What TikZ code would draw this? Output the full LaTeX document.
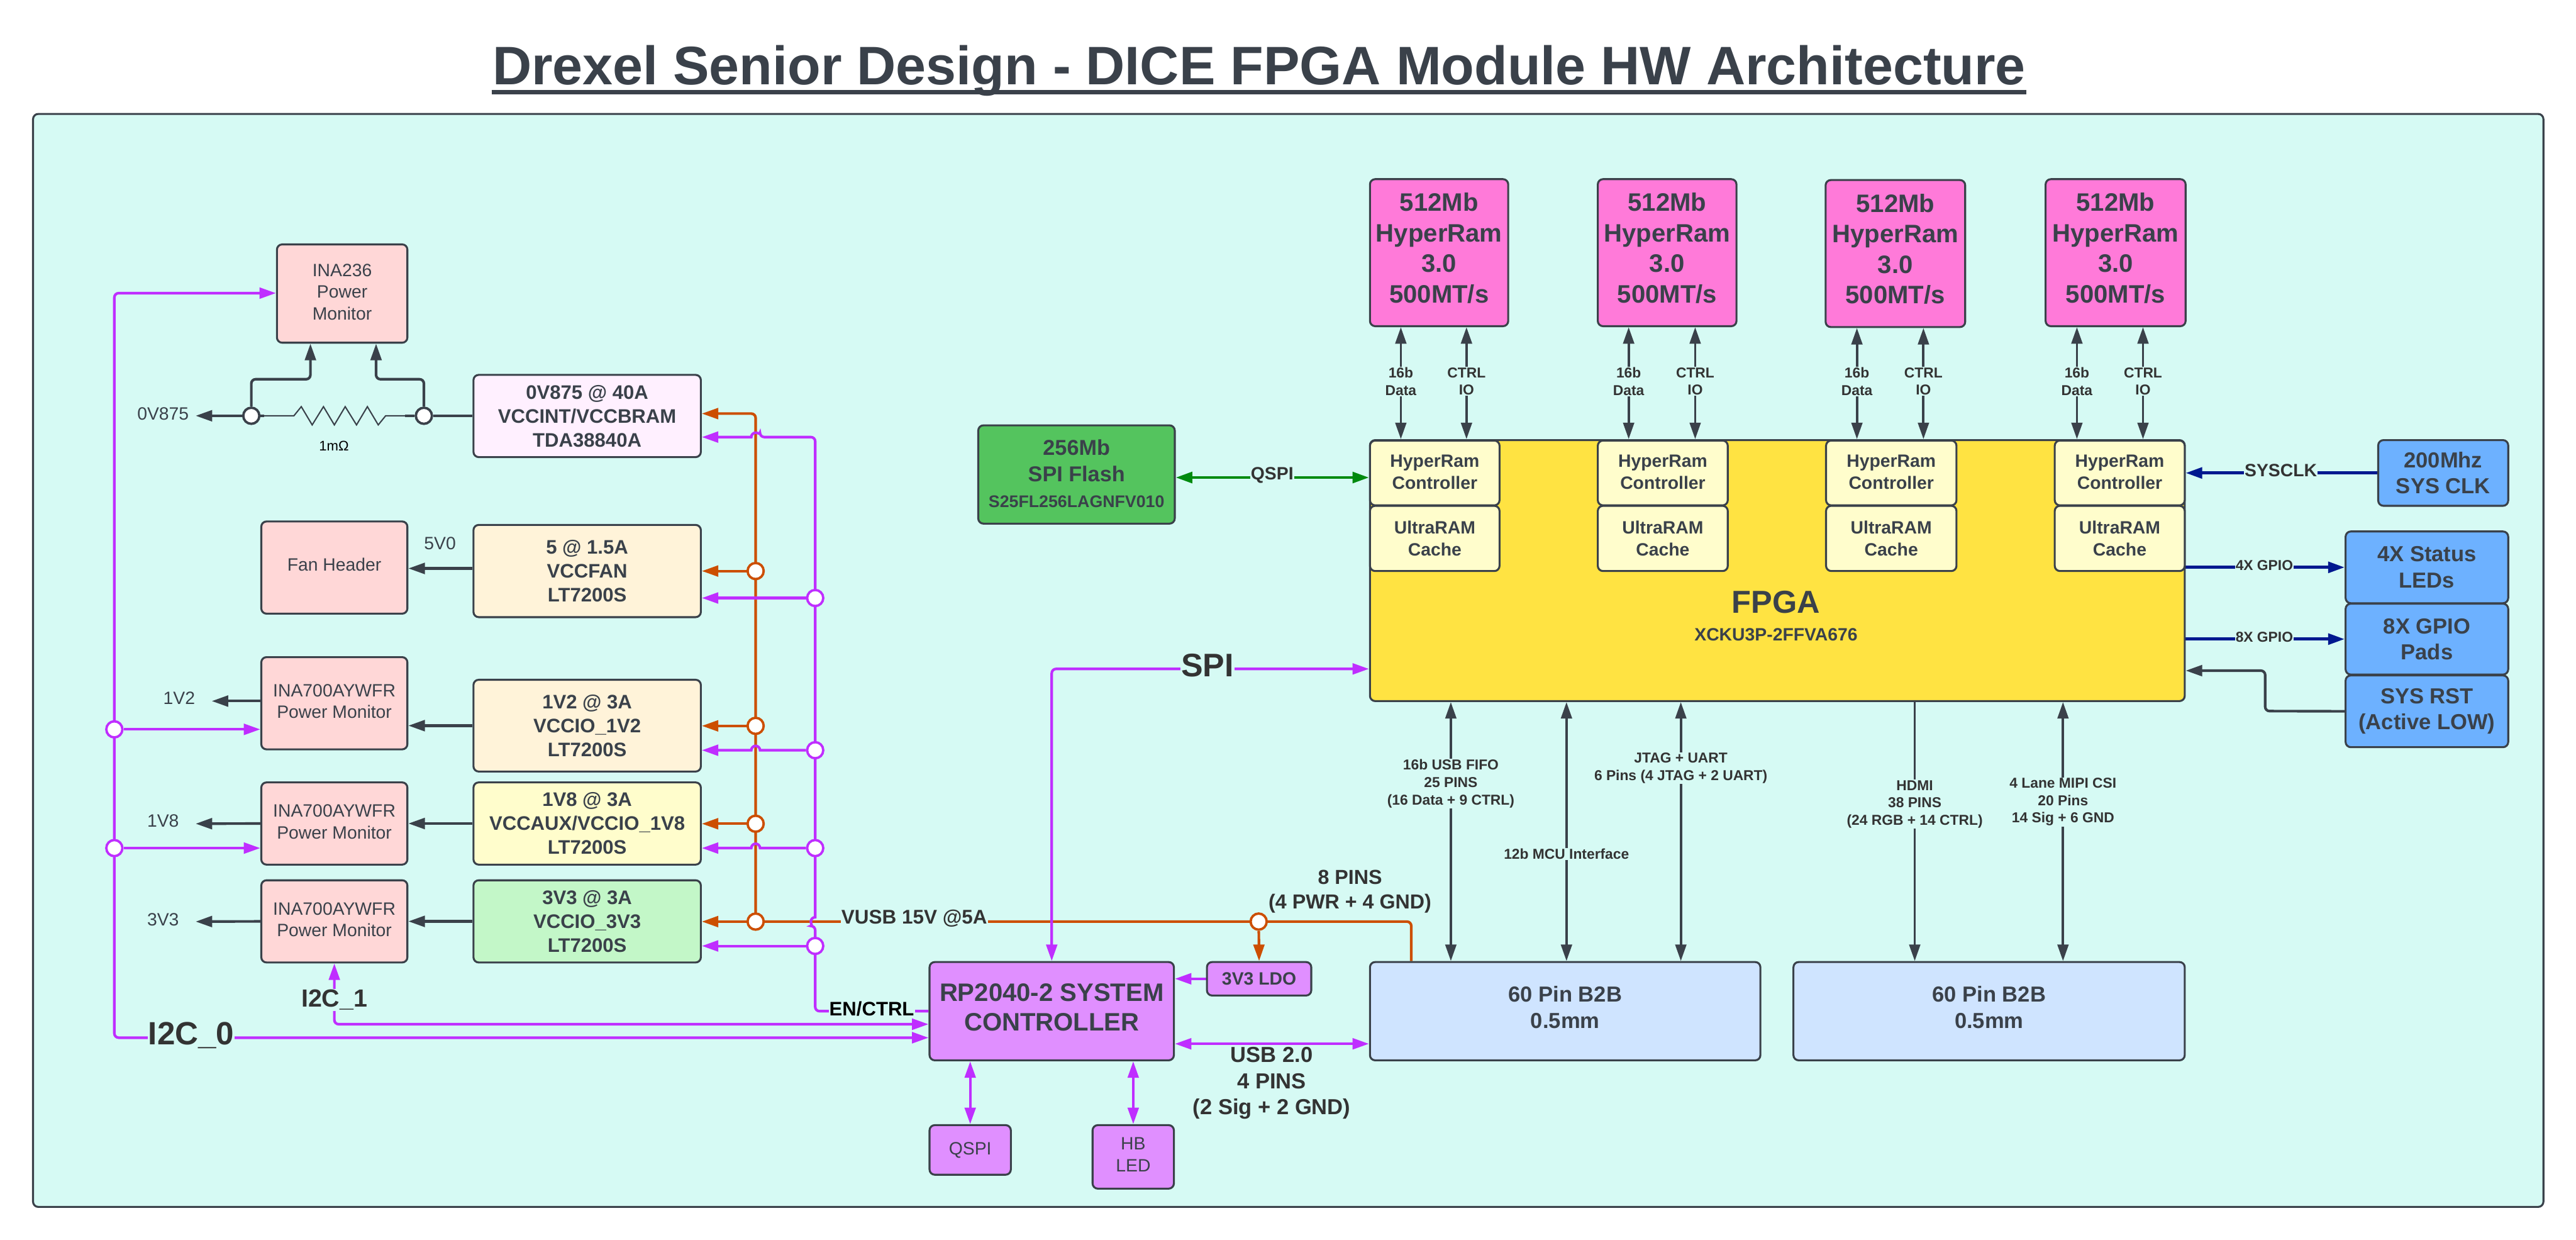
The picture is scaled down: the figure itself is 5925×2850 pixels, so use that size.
\documentclass[tikz,border=0pt]{standalone}
\usepackage{fontspec}
\setmainfont{Liberation Sans}
\usetikzlibrary{arrows.meta,calc,shapes.geometric}
\definecolor{ink}{HTML}{3A414A}
\definecolor{lab}{HTML}{333333}
\definecolor{panelc}{HTML}{D6FAF4}
\definecolor{pur}{HTML}{BF2EFF}
\definecolor{ora}{HTML}{CC4E00}
\definecolor{nav}{HTML}{00188F}
\definecolor{grn}{HTML}{008A0E}
\definecolor{cpink}{HTML}{FFD7D7}
\definecolor{clav}{HTML}{FFF0FF}
\definecolor{ccream}{HTML}{FFF3D9}
\definecolor{cyel}{HTML}{FFFDCC}
\definecolor{cgrn}{HTML}{C3F7C8}
\definecolor{cvio}{HTML}{E08FFF}
\definecolor{cmag}{HTML}{FF7AD9}
\definecolor{cfla}{HTML}{54C45E}
\definecolor{cfpga}{HTML}{FFE342}
\definecolor{cblu}{HTML}{6DB1FF}
\definecolor{cb2b}{HTML}{CFE4FF}
\pgfdeclarelayer{panellayer}
\pgfdeclarelayer{lines}
\pgfsetlayers{panellayer,lines,main}
\tikzset{
  Tri/.tip={Triangle[length=3.8pt,width=2.5pt]},
  boxbase/.style={draw=ink,line width=0.45pt,rounded corners=1.2pt,inner sep=0pt,align=center,text=ink},
  reg/.style={font=\fontsize{4.1}{5}\selectfont},
  bld/.style={font=\fontsize{4.1}{5}\selectfont\bfseries},
  psu/.style={font=\fontsize{4.5}{5.5}\selectfont\bfseries},
  big/.style={font=\fontsize{5}{6}\selectfont\bfseries},
  ram/.style={font=\fontsize{5.8}{7}\selectfont\bfseries},
  lbl/.style={inner sep=0.15pt,align=center,text=lab,fill=panelc},
  nofill/.style={inner sep=0pt,align=center,text=ink},
  tiny/.style={font=\fontsize{3.3}{4}\selectfont\bfseries},
  linep/.style={draw=pur,line width=0.6pt},
  lineo/.style={draw=ora,line width=0.6pt},
  lined/.style={draw=ink,line width=0.6pt},
  linet/.style={draw=ink,line width=0.55pt},
  linen/.style={draw=nav,line width=0.7pt},
  lineg/.style={draw=grn,line width=0.7pt},
  jct/.style={circle,fill=white,inner sep=0pt,minimum size=3.7pt,line width=0.55pt},
  jp/.style={jct,draw=pur},
  jo/.style={jct,draw=ora},
  jd/.style={jct,draw=ink},
}
\newcommand\bx[7]{\node[boxbase,#6,minimum width={(#4-#2)*0.1pt},minimum height={(#5-#3)*0.1pt}] (#1) at ({(#2+#4)/2},{(#3+#5)/2}) {#7};}
\begin{document}
\begin{tikzpicture}[x=0.1pt,y=-0.1pt]
\useasboundingbox (0,0) rectangle (5925,2850);
\begin{pgfonlayer}{panellayer}
\fill[white] (0,0) rectangle (5925,2850);
\bx{panel}{76}{262}{5850}{2775}{fill=panelc}{}
\end{pgfonlayer}
% title
\node[inner sep=0pt,text=ink,font=\fontsize{12.47}{15}\selectfont\bfseries] (title) at (2896,162) {Drexel Senior Design - DICE FPGA Module HW Architecture};
% power section
\bx{ina}{637}{562}{937}{788}{fill=cpink,reg,text depth=0.75pt}{INA236\\Power\\Monitor}
\bx{vcore}{1089}{862}{1612}{1051}{fill=clav,psu}{0V875 @ 40A\\VCCINT/VCCBRAM\\TDA38840A}
\bx{fan}{601}{1199}{937}{1411}{fill=cpink,reg,text depth=1.5pt}{Fan Header}
\bx{vfan}{1089}{1207}{1612}{1419}{fill=ccream,psu}{5 @ 1.5A\\VCCFAN\\LT7200S}
\bx{mon12}{601}{1511}{937}{1723}{fill=cpink,reg,text depth=0.9pt}{INA700AYWFR\\Power Monitor}
\bx{v12}{1089}{1563}{1612}{1774}{fill=ccream,psu}{1V2 @ 3A\\VCCIO\_1V2\\LT7200S}
\bx{mon18}{601}{1799}{937}{1988}{fill=cpink,reg,text depth=0.9pt}{INA700AYWFR\\Power Monitor}
\bx{v18}{1089}{1799}{1612}{1988}{fill=cyel,psu}{1V8 @ 3A\\VCCAUX/VCCIO\_1V8\\LT7200S}
\bx{mon33}{601}{2024}{937}{2213}{fill=cpink,reg,text depth=0.9pt}{INA700AYWFR\\Power Monitor}
\bx{v33}{1089}{2024}{1612}{2213}{fill=cgrn,psu}{3V3 @ 3A\\VCCIO\_3V3\\LT7200S}
% controller
\bx{rp}{2138}{2212}{2700}{2438}{fill=cvio,font=\fontsize{5.8}{6.9}\selectfont\bfseries,text depth=1.8pt}{RP2040-2 SYSTEM\\CONTROLLER}
\bx{ldo}{2776}{2212}{3016}{2289}{fill=cvio,bld}{3V3 LDO}
\bx{qspibox}{2138}{2587}{2325}{2701}{fill=cvio,reg}{QSPI}
\bx{hb}{2513}{2587}{2700}{2733}{fill=cvio,reg,text depth=1pt}{HB\\LED}
\bx{bb1}{3151}{2212}{4049}{2438}{fill=cb2b,big,text depth=1.8pt}{60 Pin B2B\\0.5mm}
\bx{bb2}{4125}{2212}{5025}{2438}{fill=cb2b,big,text depth=1.8pt}{60 Pin B2B\\0.5mm}
% flash, RAM
\bx{flash}{2250}{978}{2702}{1204}{fill=cfla,font=\fontsize{4.95}{6}\selectfont\bfseries,text depth=0.4pt}{256Mb\\SPI Flash\\{\fontsize{3.87}{6}\selectfont S25FL256LAGNFV010}}
\bx{ram1}{3151}{412}{3469}{750}{fill=cmag,ram,text depth=2.2pt}{512Mb\\HyperRam\\3.0\\500MT/s}
\bx{ram2}{3675}{412}{3994}{750}{fill=cmag,ram,text depth=2.2pt}{512Mb\\HyperRam\\3.0\\500MT/s}
\bx{ram3}{4199}{414}{4520}{752}{fill=cmag,ram,text depth=2.2pt}{512Mb\\HyperRam\\3.0\\500MT/s}
\bx{ram4}{4705}{412}{5027}{750}{fill=cmag,ram,text depth=2.2pt}{512Mb\\HyperRam\\3.0\\500MT/s}
\bx{fpga}{3151}{1012}{5025}{1612}{fill=cfpga}{}
\node[nofill,font=\fontsize{7.3}{8}\selectfont\bfseries] (fpgat) at (4085,1385) {FPGA};
\node[nofill,bld] (fpgas) at (4085,1459) {XCKU3P-2FFVA676};
\bx{hc1}{3151}{1013}{3449}{1162}{fill=cyel,bld,text depth=0.4pt}{HyperRam\\Controller}
\bx{uc1}{3151}{1163}{3449}{1313}{fill=cyel,bld}{UltraRAM\\Cache}
\bx{hc2}{3675}{1013}{3974}{1162}{fill=cyel,bld,text depth=0.4pt}{HyperRam\\Controller}
\bx{uc2}{3675}{1163}{3974}{1313}{fill=cyel,bld}{UltraRAM\\Cache}
\bx{hc3}{4200}{1013}{4500}{1162}{fill=cyel,bld,text depth=0.4pt}{HyperRam\\Controller}
\bx{uc3}{4200}{1163}{4500}{1313}{fill=cyel,bld}{UltraRAM\\Cache}
\bx{hc4}{4726}{1013}{5025}{1162}{fill=cyel,bld,text depth=0.4pt}{HyperRam\\Controller}
\bx{uc4}{4726}{1163}{5025}{1313}{fill=cyel,bld}{UltraRAM\\Cache}
% right
\bx{clk}{5470}{1012}{5769}{1163}{fill=cblu,big}{200Mhz\\SYS CLK}
\bx{leds}{5395}{1222}{5769}{1387}{fill=cblu,big}{4X Status\\LEDs}
\bx{gpio}{5395}{1388}{5769}{1551}{fill=cblu,big}{8X GPIO\\Pads}
\bx{rst}{5395}{1553}{5769}{1718}{fill=cblu,big}{SYS RST\\(Active LOW)}
% junctions
\node[jd] (rl) at (578,956) {};
\node[jd] (rr) at (975,956) {};
\node[jo] (o5) at (1738,1313) {};
\node[jo] (o12) at (1738,1669) {};
\node[jo] (o18) at (1738,1894) {};
\node[jo] (o33) at (1738,2119) {};
\node[jo] (ov) at (2895,2119) {};
\node[jp] (p5) at (1875,1375) {};
\node[jp] (p12) at (1875,1725) {};
\node[jp] (p18) at (1875,1950) {};
\node[jp] (p33) at (1875,2175) {};
\node[jp] (l12) at (263,1677) {};
\node[jp] (l18) at (263,1950) {};
% labels
\node[nofill,reg] (t0875) at (375,951) {0V875};
\node[nofill,font=\fontsize{3.2}{4}\selectfont,text=black] (tmo) at (768,1026) {1mΩ};
\node[nofill,reg] (t5v0) at (1012,1250) {5V0};
\node[nofill,reg] (t1v2) at (412,1605) {1V2};
\node[nofill,reg] (t1v8) at (375,1888) {1V8};
\node[nofill,reg] (t3v3) at (375,2114) {3V3};
\node[lbl,font=\fontsize{7.4}{8}\selectfont\bfseries] (ti0) at (440,2380) {I2C\_0};
\node[lbl,font=\fontsize{5.7}{7}\selectfont\bfseries] (ti1) at (769,2299) {I2C\_1};
\node[lbl,font=\fontsize{4.5}{5.5}\selectfont\bfseries,text=black] (ten) at (2005,2319) {EN/CTRL};
\node[lbl,font=\fontsize{4.55}{5.5}\selectfont\bfseries] (tvusb) at (2103,2112) {VUSB 15V @5A};
\node[nofill,text=lab,font=\fontsize{4.66}{5.6}\selectfont\bfseries] (t8p) at (3105,2050) {8 PINS\\(4 PWR + 4 GND)};
\node[nofill,text=lab,big] (tusb) at (2925,2491) {USB 2.0\\4 PINS\\(2 Sig + 2 GND)};
\node[lbl,font=\fontsize{7.5}{8}\selectfont\bfseries] (tspi) at (2777,1530) {SPI};
\node[lbl,bld] (tq) at (2926,1092) {QSPI};
\node[lbl,bld] (tclk) at (5246,1081) {SYSCLK};
\node[lbl,tiny] (t4x) at (5208,1300) {4X GPIO};
\node[lbl,tiny] (t8x) at (5208,1465) {8X GPIO};
\node[lbl,tiny] (d1) at (3222,877) {16b\\Data};
\node[lbl,tiny] (e1) at (3373,877) {CTRL\\IO};
\node[lbl,tiny] (d2) at (3746,877) {16b\\Data};
\node[lbl,tiny] (e2) at (3899,877) {CTRL\\IO};
\node[lbl,tiny] (d3) at (4271,877) {16b\\Data};
\node[lbl,tiny] (e3) at (4424,877) {CTRL\\IO};
\node[lbl,tiny] (d4) at (4777,877) {16b\\Data};
\node[lbl,tiny] (e4) at (4929,877) {CTRL\\IO};
\node[lbl,tiny] (f1) at (3337,1802) {16b USB FIFO\\25 PINS\\(16 Data + 9 CTRL)};
\node[lbl,tiny] (f2) at (3603,1964) {12b MCU Interface};
\node[lbl,tiny] (f3) at (3866,1766) {JTAG + UART\\6 Pins (4 JTAG + 2 UART)};
\node[lbl,tiny] (f4) at (4404,1849) {HDMI\\38 PINS\\(24 RGB + 14 CTRL)};
\node[lbl,tiny] (f5) at (4745,1844) {4 Lane MIPI CSI\\20 Pins\\14 Sig + 6 GND};

\begin{pgfonlayer}{lines}
% title underline
\draw[draw=ink,line width=1.1pt] ($(title.base west)+(0,18)$) -- ($(title.base east)+(0,18)$);
% sense resistor
\draw[lined,-Tri] (rl) -- (450,956);
\draw[lined] (rr) -- (vcore.west |- rr);
\draw[lined] (rl) -- (607,956);
\draw[lined] (rr) -- (932,956);
\draw[draw=ink,line width=0.3pt] (rl) -- (676,956) -- (693,935) -- (718,977) -- (744,935) -- (769,977) -- (794,935) -- (820,977) -- (845,935) -- (870,977) -- (887,956) -- (rr);
\draw[lined,-Tri,rounded corners=1pt] (rl.north) -- (578,872) -- (714,872) -- ($(ina.south)+(-73,0)$);
\draw[lined,-Tri,rounded corners=1pt] (rr.north) -- (975,872) -- (865,872) -- ($(ina.south)+(78,0)$);
% dark power arrows
\draw[lined,-Tri] ($(vfan.west)+(0,-6)$) -- ($(fan.east)+(0,2)$);
\draw[lined,-Tri] (v12.west) -- (mon12.east |- v12.west);
\draw[lined,-Tri] (v18.west) -- (mon18.east);
\draw[lined,-Tri] (v33.west) -- (mon33.east);
\draw[lined,-Tri] ($(mon12.west)+(0,-5)$) -- (487,1612);
\draw[lined,-Tri] (mon18.west) -- (450,1894);
\draw[lined,-Tri] (mon33.west) -- (450,2119);
% orange
\draw[lineo,-Tri,rounded corners=1pt] (o33.center) -- (1738,951) -- ($(vcore.east)+(0,-5.5)$);
\draw[lineo,-Tri] (o5) -- (vfan.east |- o5);
\draw[lineo,-Tri] (o12) -- (v12.east |- o12);
\draw[lineo,-Tri] (o18) -- (v18.east |- o18);
\draw[lineo,-Tri] (o33) -- (v33.east |- o33);
\draw[lineo,rounded corners=1pt] (bb1.north -| 3246,0) -- (3246,2119) -- (ov.center) -- (o33.center);
\draw[lineo,-Tri] (ov) -- (ldo.north);
% purple bus
\draw[linep] (rp.west |- ten) ++(0,6) -- (1900,2325) [rounded corners=1pt] -- (1875,2325) -- (1875,2129) [sharp corners] arc[start angle=90,end angle=270,radius=10] -- (1875,1015) [rounded corners=1pt] -- (1875,1005) -- (1748,1005) [sharp corners] arc[start angle=0,end angle=-180,radius=10] [-Tri] -- ($(vcore.east)+(0,48.5)$);
\draw[linep,-Tri] (p5) -- (vfan.east |- p5);
\draw[linep,-Tri] (p12) -- (1748,1725) arc[start angle=0,end angle=-180,radius=10] -- (v12.east |- p12);
\draw[linep,-Tri] (p18) -- (1748,1950) arc[start angle=0,end angle=-180,radius=10] -- (v18.east |- p18);
\draw[linep,-Tri] (p33) -- (v33.east |- p33);
% left bus
\draw[linep,{Tri}-{Tri},rounded corners=1pt] (ina.west |- 0,674) -- (263,674) -- (263,2386) -- ($(rp.west)+(0,61)$);
\draw[linep,-Tri] (l12) -- (mon12.west |- l12);
\draw[linep,-Tri] (l18) -- (mon18.west |- l18);
\draw[linep,{Tri}-{Tri},rounded corners=1pt] (mon33.south) -- (769,2355) -- ($(rp.west)+(0,30)$);
% SPI
\draw[linep,{Tri}-{Tri},rounded corners=1pt] ($(rp.north)+(0,0)$) -- (2419,1538) -- (fpga.west |- 0,1538);
% RP peripherals
\draw[linep,-Tri] (ldo.west) -- (rp.east |- ldo.west);
\draw[linep,{Tri}-{Tri}] ($(rp.east)+(0,75)$) -- ($(bb1.west)+(0,75)$);
\draw[linep,{Tri}-{Tri}] (rp.south -| qspibox.north) -- (qspibox.north);
\draw[linep,{Tri}-{Tri}] (rp.south -| hb.north) -- (hb.north);
% flash, right side
\draw[lineg,{Tri}-{Tri}] (flash.east |- 0,1098) -- (fpga.west |- 0,1098);
\draw[linen,-Tri] (clk.west) -- (fpga.east |- clk.west);
\draw[linen,-Tri] (fpga.east |- leds.west) -- (leds.west);
\draw[linen,-Tri] (fpga.east |- gpio.west) -- (gpio.west);
\draw[lined,-Tri,rounded corners=1pt] (rst.west) -- (5210,1635) -- (5210,1542) -- (fpga.east |- 0,1542);
% RAM buses
\foreach \n/\m in {d1/ram1,e1/ram1,d2/ram2,e2/ram2,d3/ram3,e3/ram3,d4/ram4,e4/ram4}{
  \draw[linet,{Tri}-{Tri}] (\m.south -| \n) -- (fpga.north -| \n);
}
% B2B buses
\draw[linet,{Tri}-{Tri}] (fpga.south -| f1) -- (bb1.north -| f1);
\draw[linet,{Tri}-{Tri}] (fpga.south -| f2) -- (bb1.north -| f2);
\draw[linet,{Tri}-{Tri}] (fpga.south -| f3) -- (bb1.north -| f3);
\draw[linet,-Tri] (fpga.south -| f4) -- (bb2.north -| f4);
\draw[linet,{Tri}-{Tri}] (fpga.south -| f5) -- (bb2.north -| f5);
\end{pgfonlayer}
\end{tikzpicture}
\end{document}
